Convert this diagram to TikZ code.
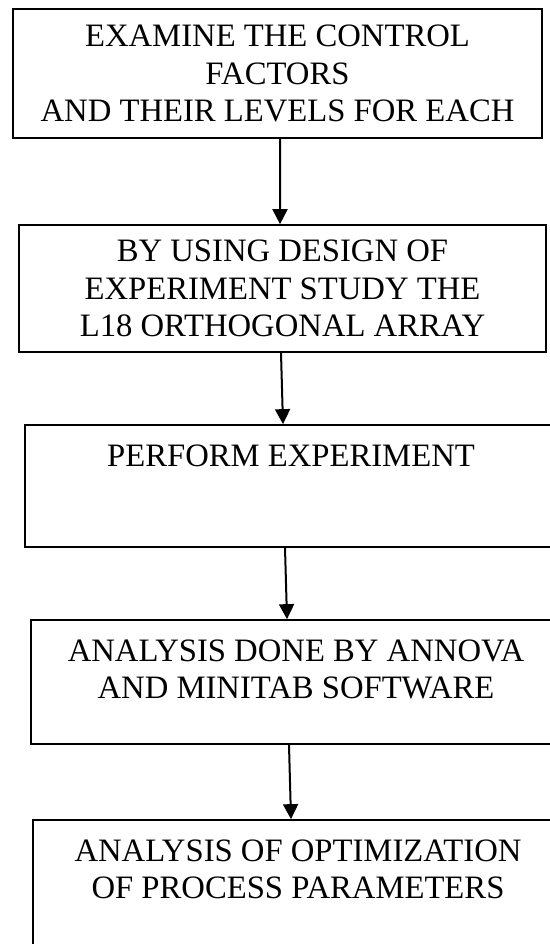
\documentclass[tikz,border=0pt]{standalone}
\usepackage{fontspec}
\setmainfont{Liberation Serif}
\usetikzlibrary{positioning, arrows.meta}

\tikzset{
  stepbox/.style={draw, line width=0.035cm, inner sep=0pt, font=\fontsize{18.6}{21.2}\selectfont},
  flow/.style={-{Triangle[width=0.3cm, length=0.3cm]}, line width=0.04cm}
}

\begin{document}
\begin{tikzpicture}[x=0.02cm, y=-0.02cm]
\useasboundingbox (0,0) rectangle (550,944);
\clip (0,0) rectangle (550,944);

% --- steps ---
\node[stepbox] (examine) at (277.5,73.5)
  {\parbox[c][2.58cm][c]{10.58cm}{\centering EXAMINE THE CONTROL\\ FACTORS\\ AND THEIR LEVELS FOR EACH}};
\node[stepbox] (design) at (282.5,288.5)
  {\parbox[c][2.54cm][c]{10.54cm}{\centering BY USING DESIGN OF\\ EXPERIMENT STUDY THE\\ L18 ORTHOGONAL ARRAY}};
\node[stepbox] (perform) at (291,486)
  {\parbox[c][2.44cm][t]{10.64cm}{\vspace*{0.4cm}\centering PERFORM EXPERIMENT}};
\node[stepbox] (analysis) at (296,682)
  {\parbox[c][2.48cm][t]{10.6cm}{\vspace*{0.4cm}\centering ANALYSIS DONE BY ANNOVA\\ AND MINITAB SOFTWARE}};
\node[stepbox] (optimize) at (298,883)
  {\parbox[c][2.52cm][t]{10.6cm}{\vspace*{0.4cm}\centering ANALYSIS OF OPTIMIZATION\\ OF PROCESS PARAMETERS}};

% --- arrows ---
\draw[flow] ([xshift=0.05cm]examine.south) -- ([xshift=-0.05cm]design.north);
\draw[flow] ([xshift=-0.03cm]design.south) -- ([xshift=-0.16cm]perform.north);
\draw[flow] ([xshift=-0.12cm]perform.south) -- ([xshift=-0.18cm]analysis.north);
\draw[flow] ([xshift=-0.14cm]analysis.south) -- ([xshift=-0.14cm]optimize.north);
\end{tikzpicture}
\end{document}
